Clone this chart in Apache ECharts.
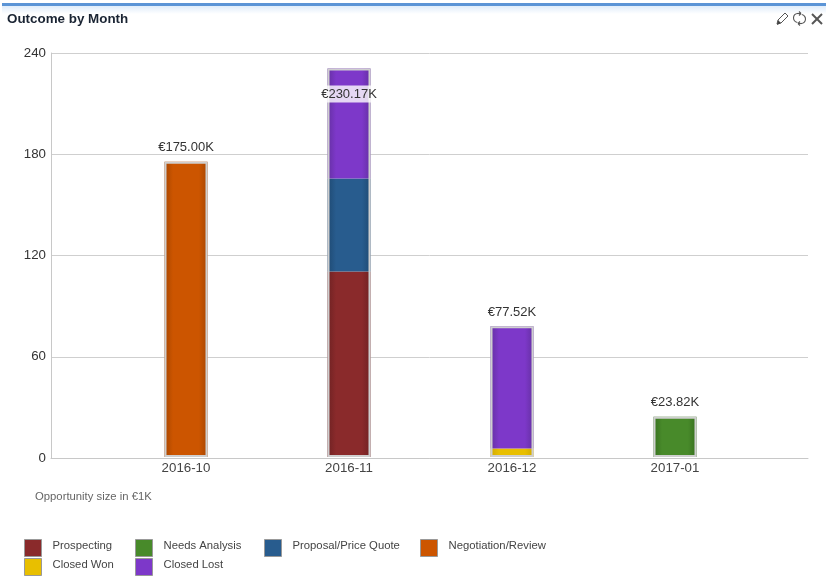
<!DOCTYPE html>
<html>
<head>
<meta charset="utf-8">
<style>html,body{margin:0;padding:0;background:#fff}#container{width:826px;height:576px}</style>
<script src="https://cdn.jsdelivr.net/npm/echarts@6/dist/echarts.min.js"></script>
</head>
<body>
<div id="container"></div>
<script>
var months = ['2016-10', '2016-11', '2016-12', '2017-01'];
var yTicks = [0, 60, 120, 180, 240];
var prospecting = [null, 110, null, null];
var needsAnalysis = [null, null, null, 23.82];
var proposal = [null, 55, null, null];
var negotiation = [175, null, null, null];
var closedWon = [null, null, 5, null];
var closedLost = [null, 65.17, 72.52, null];
var totals = [175, 230.17, 77.52, 23.82];
var totalLabels = ['€175.00K', '€230.17K', '€77.52K', '€23.82K'];

var font = '"Liberation Sans", Arial, sans-serif';
var myChart = echarts.init(document.getElementById('container'));

function shade(edge, mid) {
    return new echarts.graphic.LinearGradient(0, 0, 1, 0, [
        {offset: 0, color: edge},
        {offset: 0.2, color: mid},
        {offset: 0.8, color: mid},
        {offset: 1, color: edge}
    ]);
}

function stacked(name, arr, edge, mid) {
    return {
        name: name,
        type: 'bar',
        stack: 'outcome',
        xAxisIndex: 0,
        yAxisIndex: 0,
        barWidth: 43,
        barGap: '-100%',
        itemStyle: {color: shade(edge, mid)},
        data: arr
    };
}

function legendItem(name, color, left, top) {
    return {
        left: left,
        top: top,
        orient: 'horizontal',
        itemWidth: 17,
        itemHeight: 17,
        itemGap: 0,
        padding: 0,
        selectedMode: false,
        formatter: '{t|{name}}',
        textStyle: {
            padding: [0, 0, 0, 6],
            rich: {t: {fontFamily: font, fontSize: 11.3, color: '#444', padding: [0, 0, 5, 0]}}
        },
        data: [{name: name, icon: 'rect', itemStyle: {color: color, borderColor: '#999', borderWidth: 1}}]
    };
}

function iconLine(x1, y1, x2, y2, width) {
    return {type: 'line', silent: true, z: 1, shape: {x1: x1, y1: y1, x2: x2, y2: y2},
        style: {stroke: '#555', lineWidth: width}};
}

function iconArc(cx, cy, startAngle, endAngle) {
    return {type: 'arc', silent: true, z: 1, shape: {cx: cx, cy: cy, r: 4.5, startAngle: startAngle, endAngle: endAngle},
        style: {fill: 'none', stroke: '#555', lineWidth: 1.1}};
}

var option = {
    animation: false,
    textStyle: {fontFamily: font},
    title: [
        {text: 'Outcome by Month', left: 7, top: 13, padding: 0,
            textStyle: {fontFamily: font, fontSize: 13.4, fontWeight: 'bold', color: '#1a2433'}},
        {text: 'Opportunity size in €1K', left: 35, top: 491, padding: 0,
            textStyle: {fontFamily: font, fontSize: 11.3, fontWeight: 'normal', color: '#666'}}
    ],
    legend: [
        legendItem('Prospecting', '#8a2a2b', 24, 539),
        legendItem('Needs Analysis', '#488a2a', 135, 539),
        legendItem('Proposal/Price Quote', '#285c8e', 264, 539),
        legendItem('Negotiation/Review', '#cc5500', 420, 539),
        legendItem('Closed Won', '#e8bf00', 24, 558),
        legendItem('Closed Lost', '#7d38c9', 135, 558)
    ],
    // grid 0 holds the columns, grid 1 the wider frame and gridlines behind them
    grid: [
        {left: 104.5, right: 69.5, top: 52, bottom: 119},
        {left: 51, right: 18, top: 53, bottom: 118}
    ],
    xAxis: [
        {
            type: 'category',
            gridIndex: 0,
            data: months,
            axisLine: {show: false},
            axisTick: {show: false},
            axisLabel: {margin: 5, fontSize: 13.3, color: '#444'}
        },
        {
            type: 'value',
            gridIndex: 1,
            min: 0,
            max: 1,
            splitLine: {show: false},
            axisLine: {show: true, onZero: false, lineStyle: {color: '#c8c8c8'}},
            axisTick: {show: false},
            axisLabel: {show: false}
        }
    ],
    yAxis: [
        {
            type: 'value',
            gridIndex: 0,
            min: yTicks[0],
            max: yTicks[yTicks.length - 1],
            interval: 60,
            axisLine: {show: false},
            axisTick: {show: false},
            axisLabel: {show: false},
            splitLine: {show: false}
        },
        {
            type: 'value',
            gridIndex: 1,
            min: yTicks[0],
            max: yTicks[yTicks.length - 1],
            interval: 60,
            axisLine: {show: true, onZero: false, lineStyle: {color: '#c8c8c8'}},
            axisTick: {show: false},
            splitLine: {lineStyle: {color: '#cfcfcf'}},
            axisLabel: {margin: 5, fontSize: 13.3, color: '#333'}
        }
    ],
    series: [
        stacked('Prospecting', prospecting, '#6f2223', '#8a2a2b'),
        stacked('Needs Analysis', needsAnalysis, '#37701f', '#488a2a'),
        stacked('Proposal/Price Quote', proposal, '#1f4a73', '#285c8e'),
        stacked('Negotiation/Review', negotiation, '#a84600', '#cc5500'),
        stacked('Closed Won', closedWon, '#d0aa00', '#e8bf00'),
        stacked('Closed Lost', closedLost, '#6530a3', '#7d38c9'),
        {
            // outline round each whole column, carries the total label
            name: 'total',
            type: 'bar',
            xAxisIndex: 0,
            yAxisIndex: 0,
            barWidth: 43,
            barGap: '-100%',
            z: 5,
            itemStyle: {color: 'transparent', borderColor: '#cfcfcf', borderWidth: 2},
            label: {
                show: true,
                position: 'top',
                distance: 7.5,
                fontSize: 13,
                color: '#333',
                formatter: function (p) { return totalLabels[p.dataIndex]; }
            },
            data: totals.map(function (v, i) {
                var item = {value: v};
                if (i == 1) {
                    // no room above this column
                    item.label = {
                        position: 'insideTop',
                        distance: 17,
                        backgroundColor: 'rgba(255,255,255,0.8)',
                        padding: [2, 0, 2, 0]
                    };
                }
                return item;
            })
        }
    ],
    graphic: [
        {type: 'rect', silent: true, z: 0, shape: {x: 2, y: 6, width: 824, height: 8},
            style: {fill: new echarts.graphic.LinearGradient(0, 0, 0, 1, [
                {offset: 0, color: '#dfecfa'}, {offset: 1, color: '#ffffff'}])}},
        {type: 'rect', silent: true, z: 1, shape: {x: 2, y: 3, width: 824, height: 3},
            style: {fill: '#5b94d6'}},
        // pencil
        {type: 'polygon', silent: true, z: 1,
            shape: {points: [[777, 24], [778, 20], [785, 13], [788, 16], [781, 23]]},
            style: {fill: '#fff', stroke: '#555', lineWidth: 1}},
        {type: 'polygon', silent: true, z: 2,
            shape: {points: [[777, 25], [778, 20], [781, 23]]},
            style: {fill: '#444'}},
        // refresh
        iconArc(798, 18, 1.7, 4.6),
        iconArc(801, 19, -1.4, 1.5),
        iconLine(797, 13.5, 801, 13.5, 1.1),
        iconLine(798, 23.5, 802, 23.5, 1.1),
        iconLine(799, 11.5, 801, 13.5, 1.1),
        iconLine(799, 15.5, 801, 13.5, 1.1),
        iconLine(800, 21.5, 798, 23.5, 1.1),
        iconLine(800, 25.5, 798, 23.5, 1.1),
        // close
        iconLine(812, 14, 822, 24, 2),
        iconLine(822, 14, 812, 24, 2)
    ]
};

myChart.setOption(option);
</script>
</body>
</html>
